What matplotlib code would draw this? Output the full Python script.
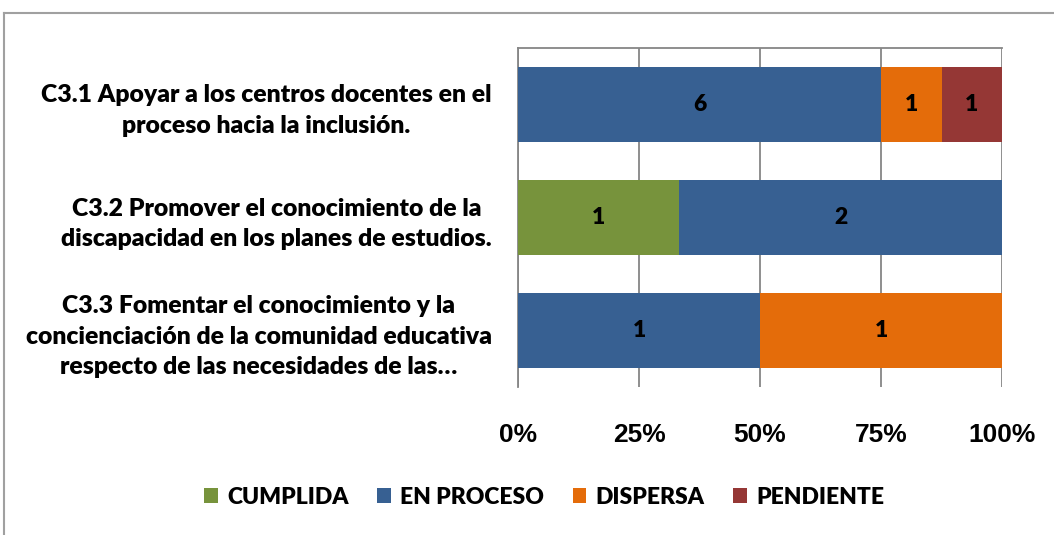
import matplotlib.pyplot as plt
from matplotlib.lines import Line2D
from matplotlib.patches import Patch
import numpy as np

# Chart data
categories = [
    "C3.1 Apoyar a los centros docentes en el\nproceso hacia la inclusión.",
    "C3.2 Promover el conocimiento de la\ndiscapacidad en los planes de estudios.",
    "C3.3 Fomentar el conocimiento y la\nconcienciación de la comunidad educativa\nrespecto de las necesidades de las…",
]
series_names = ["CUMPLIDA", "EN PROCESO", "DISPERSA", "PENDIENTE"]
cumplida = [0, 1, 0]
en_proceso = [6, 2, 1]
dispersa = [1, 0, 1]
pendiente = [1, 0, 0]
x_ticks = [0, 25, 50, 75, 100]
x_tick_labels = ["0%", "25%", "50%", "75%", "100%"]

colors = ["#77933C", "#376092", "#E46C0A", "#953735"]
label_font = "Lato"

values = np.array([cumplida, en_proceso, dispersa, pendiente], dtype=float)
totals = values.sum(axis=0)
shares = values / totals * 100

fig = plt.figure(figsize=(10.54, 5.35), dpi=100)
ax = fig.add_axes([518 / 1054, 1 - 387 / 535, 484 / 1054, 339 / 535])

y = np.arange(len(categories))
left = np.zeros(len(categories))
for i, name in enumerate(series_names):
    ax.barh(y, shares[i], left=left, height=0.66, color=colors[i], zorder=3)
    for j in range(len(categories)):
        if values[i, j] > 0:
            ax.text(left[j] + shares[i, j] / 2, y[j], f"{int(values[i, j])}",
                    ha="center", va="center", fontsize=16.5, fontweight="heavy",
                    family=label_font, color="black", zorder=4)
    left += shares[i]

ax.set_xlim(0, 100)
ax.set_ylim(len(categories) - 0.5, -0.5)
ax.set_xticks(x_ticks)
ax.set_xticklabels(x_tick_labels, fontsize=19, fontweight="bold",
                   family="Liberation Sans")
ax.set_yticks(y)
ax.set_yticklabels(categories, fontsize=17.8, fontweight="heavy",
                   family=label_font, ha="right", multialignment="center",
                   linespacing=1.45)
ax.tick_params(axis="x", length=0, pad=26)
ax.tick_params(axis="y", length=0, pad=19)
ax.grid(axis="x", color="#868686", linewidth=1.3, zorder=1)

for side in ["bottom", "right"]:
    ax.spines[side].set_visible(False)
for side in ["top", "left"]:
    ax.spines[side].set_color("#868686")
    ax.spines[side].set_linewidth(1.3)

# outer chart frame
fig.add_artist(Line2D([4 / 1054, 1], [1 - 13 / 535, 1 - 13 / 535],
                      transform=fig.transFigure, color="#A0A0A0", linewidth=1.5))
fig.add_artist(Line2D([4 / 1054, 4 / 1054], [0, 1 - 13 / 535],
                      transform=fig.transFigure, color="#A0A0A0", linewidth=1.5))

handles = [Patch(facecolor=c, edgecolor="none") for c in colors]
fig.legend(handles, series_names, loc="center", bbox_to_anchor=(544 / 1054, 1 - 497 / 535),
           ncol=4, frameon=False, handlelength=0.6, handleheight=0.6,
           handletextpad=0.4, columnspacing=1.25,
           prop={"family": label_font, "weight": "heavy", "size": 16.5})

fig.savefig("out.png", dpi=100)
